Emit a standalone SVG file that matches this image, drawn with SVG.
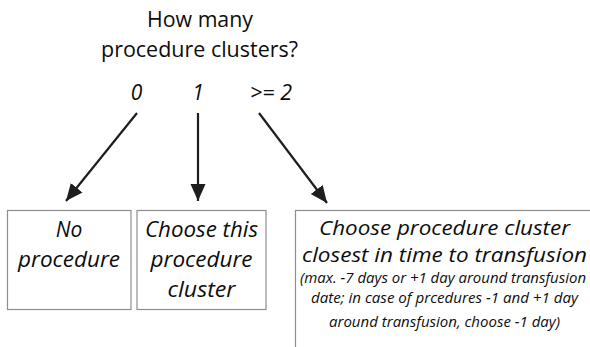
<svg xmlns="http://www.w3.org/2000/svg" width="590" height="347" viewBox="0 0 590 347">
  <style>
    text { font-family: "Open Sans", "Liberation Sans", sans-serif; fill: #0d0d0d; text-anchor: middle; }
    .title { font-size: 21px; }
    .opt { font-size: 21px; font-style: italic; }
    .box { fill: #ffffff; stroke: #8e8e8e; stroke-width: 1.2; }
    .lbl { font-size: 21px; font-style: italic; }
    .big { font-size: 20.5px; font-style: italic; }
    .small { font-size: 14.5px; font-style: italic; }
    .conn { stroke: #1e1e1e; stroke-width: 2.2; fill: none; marker-end: url(#head); }
  </style>
  <defs>
    <marker id="head" markerUnits="userSpaceOnUse" markerWidth="18" markerHeight="18" viewBox="0 0 18 18" refX="17" refY="9" orient="auto">
      <path d="M0,1.5 L17,9 L0,16.5 Z" fill="#1e1e1e"/>
    </marker>
  </defs>

  <rect width="590" height="347" fill="#ffffff"/>

  <!-- question -->
  <g id="question">
    <text class="title" x="200" y="27" textLength="106" lengthAdjust="spacingAndGlyphs">How many</text>
    <text class="title" x="199.5" y="57" textLength="197" lengthAdjust="spacingAndGlyphs">procedure clusters?</text>
    <text class="opt" x="136.5" y="100">0</text>
    <text class="opt" x="198" y="100">1</text>
    <text class="opt" x="271" y="100" textLength="42" lengthAdjust="spacingAndGlyphs">&gt;= 2</text>
  </g>

  <!-- connectors -->
  <g id="connectors">
    <line class="conn" x1="137" y1="113" x2="66" y2="201"/>
    <line class="conn" x1="198" y1="113" x2="198" y2="201"/>
    <line class="conn" x1="259" y1="113" x2="327" y2="203"/>
  </g>

  <!-- outcome: zero clusters -->
  <g id="no-procedure">
    <rect class="box" x="7.5" y="210.5" width="123.5" height="99"/>
    <text class="lbl" x="69" y="237">No</text>
    <text class="lbl" x="69" y="267" textLength="102" lengthAdjust="spacingAndGlyphs">procedure</text>
  </g>

  <!-- outcome: one cluster -->
  <g id="choose-this">
    <rect class="box" x="137" y="210.5" width="129" height="99"/>
    <text class="lbl" x="201.5" y="237" textLength="113" lengthAdjust="spacingAndGlyphs">Choose this</text>
    <text class="lbl" x="201.5" y="267" textLength="102" lengthAdjust="spacingAndGlyphs">procedure</text>
    <text class="lbl" x="201.5" y="297" textLength="68" lengthAdjust="spacingAndGlyphs">cluster</text>
  </g>

  <!-- outcome: two or more clusters -->
  <g id="choose-closest">
    <rect class="box" x="295.5" y="210.5" width="320" height="160"/>
    <text class="big" x="444.5" y="235" textLength="251" lengthAdjust="spacingAndGlyphs">Choose procedure cluster</text>
    <text class="big" x="444.5" y="262" textLength="285" lengthAdjust="spacingAndGlyphs">closest in time to transfusion</text>
    <text class="small" x="443" y="283" textLength="286" lengthAdjust="spacingAndGlyphs">(max. -7 days or +1 day around transfusion</text>
    <text class="small" x="444.5" y="303" textLength="267" lengthAdjust="spacingAndGlyphs">date; in case of prcedures -1 and +1 day</text>
    <text class="small" x="444.5" y="327" textLength="231" lengthAdjust="spacingAndGlyphs">around transfusion, choose -1 day)</text>
  </g>
</svg>
